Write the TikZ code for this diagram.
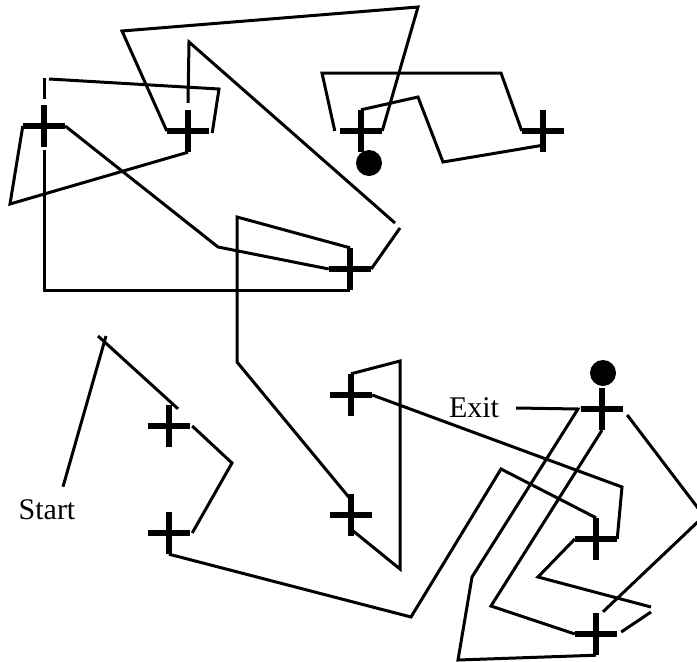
\documentclass[tikz,border=0pt]{standalone}
\usepackage{fontspec}
\setmainfont{Liberation Serif}
\usepackage{tikz}

\begin{document}
\begin{tikzpicture}[x=1pt, y=-1pt,
	wall/.style = {line width=3pt},
	bar/.style = {line width=6pt},
	cross/.style = {minimum size=42pt, inner sep=0pt},
	dot/.style = {circle, fill, inner sep=0pt, minimum size=26pt},
	tag/.style = {font=\fontsize{30}{31}\selectfont, inner sep=3pt}]
	\useasboundingbox (0,0) rectangle (697,662);
	
	% crossings
	\node[cross] (c1) at (44,126) {};
	\node[cross] (c2) at (188,131) {};
	\node[cross] (c3) at (361,131) {};
	\node[cross] (c4) at (543,131) {};
	\node[cross] (c5) at (350,269) {};
	\node[cross] (c6) at (351,395) {};
	\node[cross] (c7) at (351,515) {};
	\node[cross] (c8) at (169,426) {};
	\node[cross] (c9) at (169,533) {};
	\node[cross] (c10) at (602,409) {};
	\node[cross] (c11) at (596,539) {};
	\node[cross] (c12) at (596,634) {};
	\foreach \i in {1,...,12}
		\draw[bar] (c\i.north) -- (c\i.south) (c\i.west) -- (c\i.east);
	
	\node[dot] (d1) at (369,163) {};
	\node[dot] (d2) at (603,373) {};
	
	\node[tag] (start) at (47,510) {Start};
	\node[tag] (exit) at (474,408) {Exit};
	\coordinate (s0) at (106,336);
	
	% upper part
	\draw[wall] ([yshift=6pt]c1.north) -- (44,78);
	\draw[wall] (49,79) -- (219,89) -- ([xshift=3pt,yshift=-2pt]c2.east);
	\draw[wall] (c1.west) -- (10,204) -- (c2.south);
	\draw[wall] (c1.east) -- (218,247) -- (c5.west);
	\draw[wall] ([yshift=-3pt]c1.south) |- (c5.south);
	\draw[wall] ([yshift=7pt]c2.north) -- (189,42) -- (395,223);
	\draw[wall] (400,228) -- (c5.east);
	\draw[wall] (c2.west) -- (122,31) -- (418,7) -- (c3.east);
	\draw[wall] ([xshift=-5pt]c3.west) -- (322,73) -- (501,73) -- (c4.west);
	\draw[wall] (c3.north) -- (418,97) -- (443,162) -- ([yshift=7pt]c4.south);
	\draw[wall] (c5.north) -- (237,217) -- (237,362) -- ([yshift=-6pt]c7.north);
	
	% lower part
	\draw[wall] ([xshift=16pt,yshift=10pt]start.north) -- (s0);
	\draw[wall] ([xshift=9pt,yshift=-4pt]c8.north) -- (98,336);
	\draw[wall] ([xshift=2pt]c9.east) -- (232,463) -- ([xshift=2pt]c8.east);
	\draw[wall] (c6.north) -- (400,361) -- (400,569) -- ([yshift=7pt]c7.south);
	\draw[wall] (c6.east) -- (622,487) -- (c11.east);
	\draw[wall] (c11.north) -- (501,469) -- (411,617) -- (c9.south);
	\draw[wall] ([xshift=14pt]exit.east) -- (578,409) -- (472,577) -- (458,660) -- (c12.south);
	\draw[wall] (c10.south) -- (491,606) -- (c12.west);
	\draw[wall] ([xshift=4pt,yshift=-6pt]c10.east) -- (704,516) -- ([xshift=7pt,yshift=1pt]c12.north);
	\draw[wall] ([xshift=4pt,yshift=2pt]c12.east) -- (651,612);
	\draw[wall] (651,607) -- (538,577) -- (c11.west);
	
\end{tikzpicture}
\end{document}
